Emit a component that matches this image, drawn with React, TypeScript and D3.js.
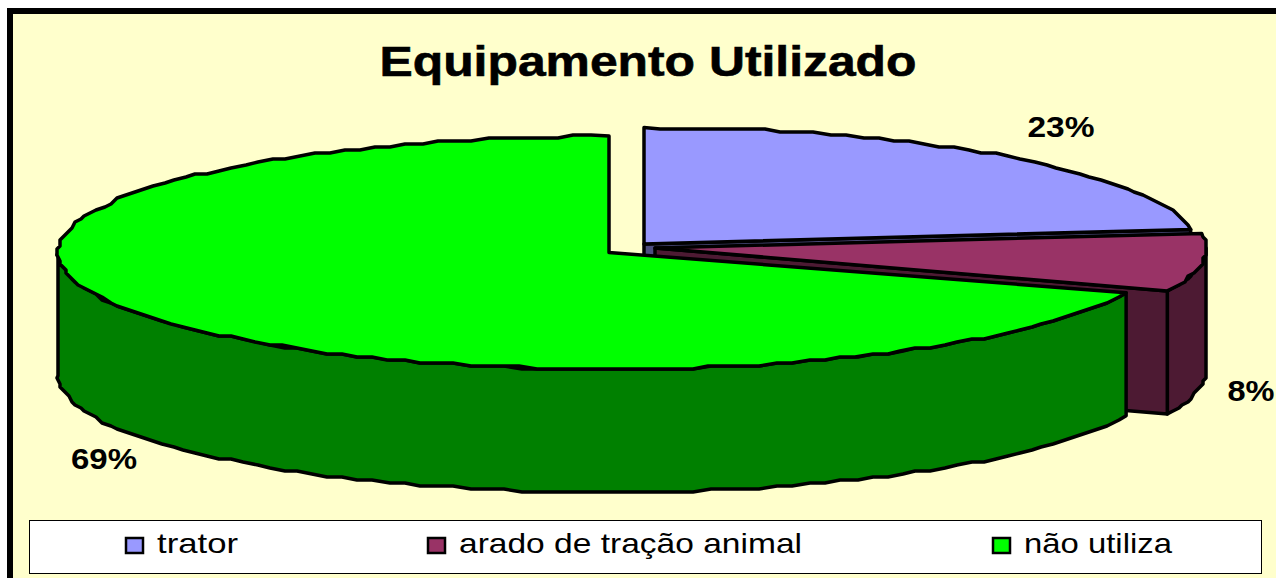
import React from "react";
import * as d3 from "d3";

const categories = ["trator", "arado de tração animal", "não utiliza"];
const values = [23, 8, 69];
const labels = ["23%", "8%", "69%"];
const topColors = ["#9999FF", "#993366", "#00FF00"];
const sideColors = ["#4D4D80", "#4D1A33", "#008000"];
const title = "Equipamento Utilizado";

const W = 1276, H = 578;
const RX = 551, RY = 116.5, DEPTH = 123;
const centers: [number, number][] = [[644, 244], [655, 248], [609, 252.5]];
const labelPos: [number, number][] = [[1061, 137], [1251, 401], [104, 469]];
const labelWidth = [67, 47, 66];
const legendX = [125, 427, 992];
const legendWidth = [81, 343, 148];
const greenStartNudge = (-1.4 * Math.PI) / 180;

const pieGen = d3.pie<number>().sort(null).startAngle(0).endAngle(2 * Math.PI);
const arcs = pieGen(values);
const starts = arcs.map((a, i) => a.startAngle + (i === 2 ? greenStartNudge : 0));
const ends = arcs.map(a => a.endAngle);

const line = d3.line<[number, number]>().x(d => d[0]).y(d => d[1]);

function pt(c: [number, number], a: number, dy = 0): [number, number] {
  return [c[0] + RX * Math.sin(a), c[1] - RY * Math.cos(a) + dy];
}
// Coarse outline, like the stepped rim of the source image.
function rim(c: [number, number], a0: number, a1: number, dy = 0): [number, number][] {
  const n = Math.max(2, Math.ceil((a1 - a0) / (1.8 * Math.PI / 180)));
  return d3.range(n + 1).map(i => {
    const p = pt(c, a0 + ((a1 - a0) * i) / n, dy);
    if (i === 0 || i === n) return p;
    return [Math.round(p[0] / 3) * 3, Math.round(p[1] / 3) * 3] as [number, number];
  });
}

function topPath(i: number) {
  const c = centers[i];
  return line([c, ...rim(c, starts[i], ends[i])])! + "Z";
}
function outerWall(i: number) {
  const c = centers[i];
  const lo = Math.max(starts[i], Math.PI / 2);
  const hi = Math.min(ends[i], (3 * Math.PI) / 2);
  if (hi <= lo) return "";
  return line([...rim(c, lo, hi), ...rim(c, lo, hi, DEPTH).reverse()])! + "Z";
}
function cutWall(i: number, a: number) {
  const c = centers[i];
  return line([c, pt(c, a), pt(c, a, DEPTH), [c[0], c[1] + DEPTH]])! + "Z";
}

const stroke = { stroke: "#000", strokeWidth: 3.5, strokeLinejoin: "round" as const };

export default function App() {
  return (
    <svg width={W} height={H} style={{ position: "absolute", left: 0, top: 0 }} fontFamily="'Liberation Sans', Arial, sans-serif">
      <rect width={W} height={H} fill="#fff" />
      <rect x={10} y={11} width={W + 20} height={H + 20} fill="#FFFFCC" stroke="#000" strokeWidth={6} />
      <text x={648} y={76} textAnchor="middle" fontSize={43} fontWeight="bold" textLength={537} lengthAdjust="spacingAndGlyphs" stroke="#000" strokeWidth={0.6}>{title}</text>

      <path d={cutWall(0, ends[0])} fill={sideColors[0]} {...stroke} />
      <path d={topPath(0)} fill={topColors[0]} {...stroke} />
      <path d={outerWall(1)} fill={sideColors[1]} {...stroke} />
      <path d={cutWall(1, ends[1])} fill={sideColors[1]} {...stroke} />
      <path d={topPath(1)} fill={topColors[1]} {...stroke} />
      <path d={outerWall(2)} fill={sideColors[2]} {...stroke} />
      <path d={topPath(2)} fill={topColors[2]} {...stroke} />

      {labels.map((l, i) => (
        <text key={l} x={labelPos[i][0]} y={labelPos[i][1]} textAnchor="middle" fontSize={30} fontWeight="bold" textLength={labelWidth[i]} lengthAdjust="spacingAndGlyphs">{l}</text>
      ))}

      <rect x={29.5} y={520.5} width={1232} height={53} fill="#fff" stroke="#000" strokeWidth={1} />
      {categories.map((cat, i) => (
        <g key={cat}>
          <rect x={legendX[i] + 1} y={538} width={17} height={15} fill={topColors[i]} stroke="#000" strokeWidth={2.5} />
          <text x={legendX[i] + 32} y={553} fontSize={28} textLength={legendWidth[i]} lengthAdjust="spacingAndGlyphs">{cat}</text>
        </g>
      ))}
    </svg>
  );
}
